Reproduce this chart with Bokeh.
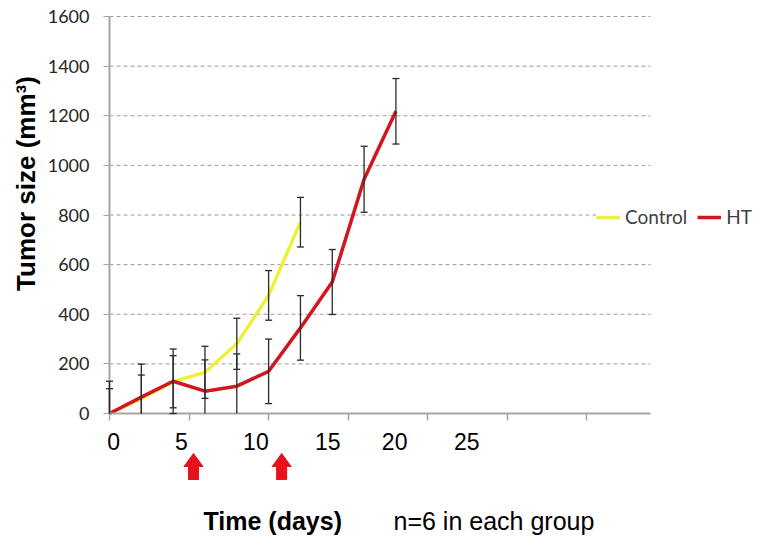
from math import pi
from bokeh.plotting import figure
from bokeh.models import (Range1d, FixedTicker, Legend, LegendItem, LinearAxis,
                          ColumnDataSource)
from bokeh.core.properties import value
from bokeh.embed import file_html
from bokeh.resources import INLINE

# ---- data (x = measurement index along the category axis) ----
control_x = [0, 1, 2, 3, 4, 5, 6]
control_y = [0, 60, 128, 166, 281, 476, 771]
control_sd = [100, 95, 105, 105, 103, 100, 100]

ht_x = [0, 1, 2, 3, 4, 5, 6, 7, 8, 9]
ht_y = [0, 66, 130, 90, 110, 170, 345, 530, 944, 1218]
ht_sd = [130, 133, 130, 126, 130, 130, 130, 131, 133, 132]

y_ticks = [0, 200, 400, 600, 800, 1000, 1200, 1400, 1600]
x_tick_marks = [0, 2.5, 5, 7.5, 10, 12.5, 15]
x_label_pos = [0.13, 2.26, 4.6, 6.86, 8.96, 11.23]
x_label_text = ["0", "5", "10", "15", "20", "25"]
treatment_x = [2.64, 5.41]

X_MAX = 17
Y_MAX = 1600

W, H = 757, 536
# plot-area placement in pixels (left, right, top, bottom)
FL, FR, FT, FB = 109, 650, 16, 413
PX_X = (FR - FL) / X_MAX
PX_Y = (FB - FT) / Y_MAX

p = figure(width=W, height=H,
           x_range=Range1d(-FL / PX_X, X_MAX + (W - FR) / PX_X),
           y_range=Range1d(-(H - FB) / PX_Y, Y_MAX + FT / PX_Y),
           x_axis_type=None, y_axis_type=None,
           output_backend="svg", toolbar_location=None,
           min_border=0)
p.outline_line_color = None
p.background_fill_color = "white"
p.border_fill_color = "white"

AX = "#a6a6a6"

# horizontal dashed gridlines across the plot area
grid_y = y_ticks[1:]
p.segment(x0=[0] * len(grid_y), y0=grid_y, x1=[X_MAX] * len(grid_y), y1=grid_y,
          line_color="#9a9a9a", line_dash="4 3", line_width=1, level="underlay")

# y axis
yax = LinearAxis(fixed_location=0, bounds=(0, Y_MAX), ticker=FixedTicker(ticks=y_ticks))
yax.axis_line_color = AX
yax.axis_line_width = 2
yax.major_tick_line_color = AX
yax.major_tick_out = 6
yax.major_tick_in = 0
yax.minor_tick_line_color = None
yax.major_label_text_font = "Lato"
yax.major_label_text_font_size = "18px"
yax.major_label_text_color = "#262626"
yax.major_label_standoff = 14
p.add_layout(yax, "left")

# x axis: labels at their own positions, tick marks as minor ticks
xax = LinearAxis(fixed_location=0, bounds=(0, X_MAX),
                 ticker=FixedTicker(ticks=x_label_pos, minor_ticks=x_tick_marks))
xax.major_label_overrides = {pos: t for pos, t in zip(x_label_pos, x_label_text)}
xax.axis_line_color = AX
xax.axis_line_width = 2
xax.major_tick_line_color = None
xax.major_tick_out = 0
xax.major_tick_in = 0
xax.minor_tick_line_color = AX
xax.minor_tick_line_width = 1.5
xax.minor_tick_out = 7
xax.minor_tick_in = 0
xax.major_label_text_font = "Liberation Sans"
xax.major_label_text_font_size = "23px"
xax.major_label_text_color = "black"
xax.major_label_standoff = 12
p.add_layout(xax, "below")


def bars(xs, ys, sds):
    hi = [v + e for v, e in zip(ys, sds)]
    lo = [max(v - e, 0) for v, e in zip(ys, sds)]
    lo_cap_x = [x for x, v, e in zip(xs, ys, sds) if v - e >= 0]
    lo_cap_y = [v - e for v, e in zip(ys, sds) if v - e >= 0]
    return (ColumnDataSource(dict(x=xs, hi=hi, lo=lo)),
            ColumnDataSource(dict(x=lo_cap_x, y=lo_cap_y)))


YEL = "#eef03a"
RED = "#d0161e"
EB = "#2a2a2a"

rc = p.line(control_x, control_y, line_color=YEL, line_width=3.5, line_join="round")
rh = p.line(ht_x, ht_y, line_color=RED, line_width=3.5, line_join="round")

for xs, ys, sds in ((control_x, control_y, control_sd), (ht_x, ht_y, ht_sd)):
    src, lo_src = bars(xs, ys, sds)
    p.segment(x0="x", y0="lo", x1="x", y1="hi", source=src, line_color=EB,
              line_width=1.3, level="overlay")
    p.scatter("x", "hi", source=src, marker="dash", size=7, line_color=EB,
              line_width=1.3, level="overlay")
    p.scatter("x", "y", source=lo_src, marker="dash", size=7, line_color=EB,
              line_width=1.3, level="overlay")

# legend
legend = Legend(items=[LegendItem(label="Control", renderers=[rc]),
                       LegendItem(label="HT", renderers=[rh])],
                orientation="horizontal", location=(596, H - 228),
                padding=0, margin=0, spacing=10, label_standoff=5,
                glyph_width=24, glyph_height=20,
                border_line_color=None, background_fill_color="white",
                background_fill_alpha=1.0,
                label_text_font="Lato", label_text_font_size="19px",
                label_text_color="#404040")
p.add_layout(legend, "center")

# treatment arrows below the axis
hw = 9.5 / PX_X
sw = 5 / PX_X
top = -(453 - FB) / PX_Y
neck = top - 13 / PX_Y
bot = top - 26 / PX_Y
p.patches(xs=[[tx, tx + hw, tx + sw, tx + sw, tx - sw, tx - sw, tx - hw] for tx in treatment_x],
          ys=[[top, neck, neck, bot, bot, neck, neck] for _ in treatment_x],
          fill_color="#e8101a", line_color="#e8101a", line_width=1)

# axis titles and note
p.text(x=[-(FL - 25) / PX_X], y=[(FB - 183) / PX_Y], text=["Tumor size (mm\u00b3)"],
       angle=pi / 2, text_align="center", text_baseline="middle",
       text_font=value("Liberation Sans"), text_font_size="26px",
       text_font_style="bold", text_color="black")
p.text(x=[(203 - FL) / PX_X], y=[-(520 - FB) / PX_Y], text=["Time (days)"],
       text_align="left", text_baseline="alphabetic",
       text_font=value("Liberation Sans"), text_font_size="25px",
       text_font_style="bold", text_color="black")
p.text(x=[(393 - FL) / PX_X], y=[-(520 - FB) / PX_Y], text=["n=6 in each group"],
       text_align="left", text_baseline="alphabetic",
       text_font=value("Liberation Sans"), text_font_size="25px",
       text_color="black")

open("out.html", "w").write(file_html(p, INLINE))
